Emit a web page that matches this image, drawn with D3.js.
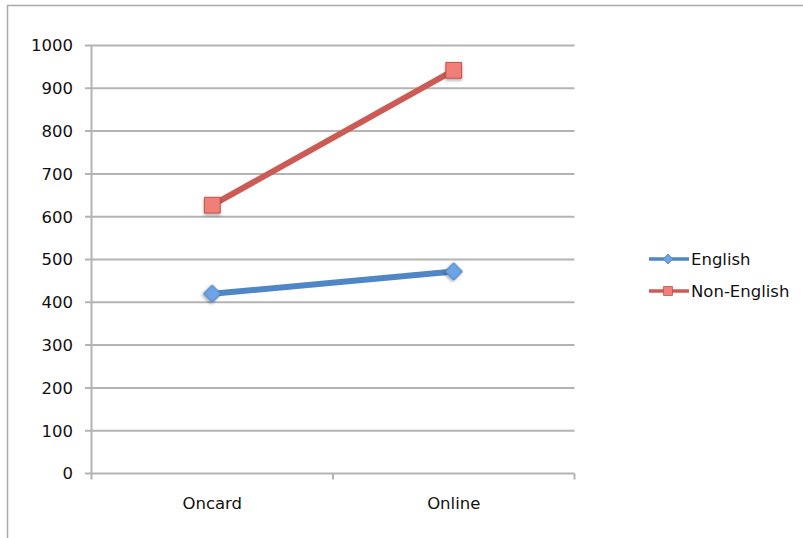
<!DOCTYPE html>
<html>
<head>
<meta charset="utf-8">
<script src="https://cdn.jsdelivr.net/npm/d3@7"></script>
<style>
  body { margin: 0; background: #fff; }
  text { font-family: "DejaVu Sans", sans-serif; fill: #111; }
</style>
</head>
<body>
<svg class="chart"></svg>
<script>
// values
var categories = ["Oncard", "Online"];
var seriesNames = ["English", "Non-English"];
var english = [420, 472];
var nonEnglish = [627, 942];
var yTicks = [0, 100, 200, 300, 400, 500, 600, 700, 800, 900, 1000];

var width = 803;
var height = 538;

var svg = d3.select(".chart")
  .attr("width", width)
  .attr("height", height);

// soft shadow under the markers
var defs = svg.append("defs");
defs.append("filter")
  .attr("id", "shadow")
  .attr("x", "-50%").attr("y", "-50%").attr("width", "200%").attr("height", "200%")
  .append("feDropShadow")
  .attr("dx", 0).attr("dy", 2).attr("stdDeviation", 1.5)
  .attr("flood-color", "#000").attr("flood-opacity", 0.3);

// outer frame
svg.append("path")
  .attr("d", "M7.5," + height + "V5.5H" + width)
  .attr("fill", "none")
  .attr("stroke", "#aaa")
  .attr("stroke-width", 1.5);

var x = d3.scaleBand()
  .domain(categories)
  .range([91.5, 574.5]);

var y = d3.scaleLinear()
  .domain([0, 1000])
  .range([473.5, 45.5]);

var grey = "#b3b3b3";

// gridlines
svg.append("g")
  .selectAll("line")
  .data(yTicks)
  .enter()
  .append("line")
  .attr("x1", 85)
  .attr("x2", 574.5)
  .attr("y1", function(d) { return y(d); })
  .attr("y2", function(d) { return y(d); })
  .attr("stroke", grey)
  .attr("stroke-width", 2);

// y axis line
svg.append("line")
  .attr("x1", 91.5).attr("x2", 91.5)
  .attr("y1", y(1000)).attr("y2", y(0))
  .attr("stroke", grey)
  .attr("stroke-width", 2);

// y labels
svg.append("g")
  .selectAll("text")
  .data(yTicks)
  .enter()
  .append("text")
  .attr("x", 73)
  .attr("y", function(d) { return y(d); })
  .attr("dy", "0.36em")
  .attr("text-anchor", "end")
  .style("font-size", "16.5px")
  .text(function(d) { return d; });

// x ticks below the axis
var xEdges = [x.range()[0]].concat(categories.map(function(c) { return x(c) + x.bandwidth(); }));
svg.append("g")
  .selectAll("line")
  .data(xEdges)
  .enter()
  .append("line")
  .attr("x1", function(d) { return d; })
  .attr("x2", function(d) { return d; })
  .attr("y1", y(0))
  .attr("y2", y(0) + 6)
  .attr("stroke", grey)
  .attr("stroke-width", 2);

// x labels
svg.append("g")
  .selectAll("text")
  .data(categories)
  .enter()
  .append("text")
  .attr("x", function(d) { return x(d) + x.bandwidth() / 2; })
  .attr("y", 509)
  .attr("text-anchor", "middle")
  .style("font-size", "16.5px")
  .text(function(d) { return d; });

var series = [
  { name: seriesNames[0], values: english, line: "#4f86c6", fill: "#6fa3e6", stroke: "#4a7fc0", rotate: 45, size: 150 },
  { name: seriesNames[1], values: nonEnglish, line: "#cd5b55", fill: "#f07f78", stroke: "#c0504d", rotate: 0, size: 250 }
];

var line = d3.line()
  .x(function(d, i) { return x(categories[i]) + x.bandwidth() / 2; })
  .y(function(d) { return y(d); });

series.forEach(function(s) {
  var g = svg.append("g");
  g.append("path")
    .attr("d", line(s.values))
    .attr("fill", "none")
    .attr("stroke", s.line)
    .attr("stroke-width", 6);

  g.selectAll("path.marker")
    .data(s.values)
    .enter()
    .append("path")
    .attr("class", "marker")
    .attr("transform", function(d, i) {
      return "translate(" + (x(categories[i]) + x.bandwidth() / 2) + "," + y(d) + ") rotate(" + s.rotate + ")";
    })
    .attr("d", d3.symbol().type(d3.symbolSquare).size(s.size))
    .attr("fill", s.fill)
    .attr("stroke", s.stroke)
    .attr("stroke-width", 1)
    .attr("filter", "url(#shadow)");
});

// legend
var legend = svg.append("g")
  .selectAll("g")
  .data(series)
  .enter()
  .append("g")
  .attr("transform", function(d, i) { return "translate(649," + (259 + i * 32) + ")"; });

legend.append("line")
  .attr("x1", 0).attr("x2", 40)
  .attr("stroke", function(d) { return d.line; })
  .attr("stroke-width", 3.5);

legend.append("path")
  .attr("transform", function(d) { return "translate(19,0) rotate(" + d.rotate + ")"; })
  .attr("d", function(d) { return d3.symbol().type(d3.symbolSquare).size(d.size * 0.32)(); })
  .attr("fill", function(d) { return d.fill; })
  .attr("stroke", function(d) { return d.stroke; })
  .attr("stroke-width", 0.8);

legend.append("text")
  .attr("x", 42)
  .attr("dy", "0.36em")
  .style("font-size", "16.5px")
  .text(function(d) { return d.name; });
</script>
</body>
</html>
